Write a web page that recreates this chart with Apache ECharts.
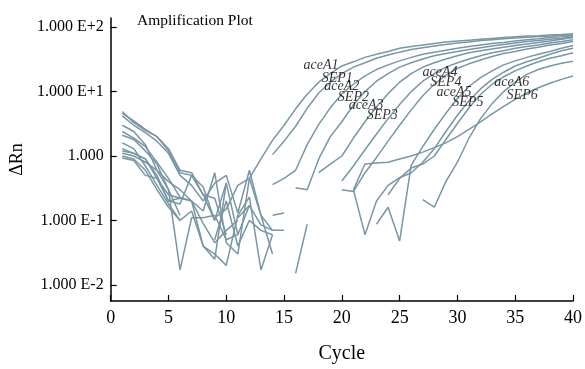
<!DOCTYPE html>
<html>
<head>
<meta charset="utf-8">
<script src="https://cdn.jsdelivr.net/npm/echarts@6/dist/echarts.min.js"></script>
<style>
  html, body { margin: 0; padding: 0; background: #fff; }
  #main { width: 585px; height: 369px; }
</style>
</head>
<body>
<div id="main"></div>
<script>
const _ = null;
const cycles = [1, 2, 3, 4, 5, 6, 7, 8, 9, 10, 11, 12, 13, 14, 15, 16, 17, 18, 19, 20,
  21, 22, 23, 24, 25, 26, 27, 28, 29, 30, 31, 32, 33, 34, 35, 36, 37, 38, 39, 40];
const yTicks = [0.01, 0.1, 1, 10, 100];

// delta Rn per cycle (null = no value shown)
const aceA1 = [1.1, 1.0, 0.8, 0.6, 0.4, 0.3, 0.2, 0.14, 0.55, 0.045,
  0.03, 0.45, 0.9, 1.75, 3.0, 5.4, 9.1, 14, 19, 25,
  29, 34, 38, 42, 47, 50, 53, 56, 59, 61,
  63, 65, 67, 69, 71, 73, 74, 76, 77, 79];
const SEP1 = [4.6, 3.5, 2.6, 2.0, 1.2, 0.55, 0.5, 0.25, 0.1, 0.38,
  0.06, _, _, 1.05, 1.7, 2.9, 5.5, 9.5, 14, 19,
  24, 28, 33, 37, 41, 45, 48, 51, 54, 57,
  59, 62, 64, 66, 68, 70, 72, 73, 75, 76];
const aceA2 = [2.1, 1.8, 1.2, 0.75, 0.3, 0.12, _, _, 0.12, 0.05,
  0.06, 0.17, _, 0.36, 0.45, 0.6, 1.5, 3.1, 5.6, 9.2,
  13, 17.5, 22, 26, 30, 34, 38, 41, 44, 47,
  50, 53, 56, 58, 61, 64, 66, 69, 71, 74];
const SEP2 = [1.3, 1.1, 0.9, 0.5, 0.2, 0.22, 0.2, 0.09, 0.045, 0.07,
  0.1, _, _, _, _, 0.32, 0.3, 0.9, 2.0, 3.4,
  6.2, 10, 14.5, 19, 24, 28, 32, 36, 39, 42,
  45, 48, 51, 54, 57, 60, 62, 65, 67, 71];
const aceA3 = [4.9, 3.3, 2.5, 2.0, 1.3, 0.6, 0.55, 0.25, 0.22, 0.06,
  _, _, _, 0.12, 0.13, _, _, 0.55, 0.75, 1.0,
  1.9, 3.4, 5.8, 9.3, 14, 19, 24, 28, 32, 36,
  40, 43, 46, 49, 52, 55, 58, 61, 65, 69];
const SEP3 = [1.6, 1.3, 0.7, 0.35, 0.18, 0.1, _, _, 0.11, 0.15,
  0.35, 0.45, 0.12, 0.07, 0.07, _, _, _, _, 0.41,
  0.7, 1.25, 2.2, 3.8, 6.3, 10, 14.5, 19, 24, 28,
  32, 36, 40, 43, 47, 50, 53, 57, 60, 64];
const aceA4 = [4.2, 3.0, 2.3, 1.7, 1.1, 0.5, 0.35, 0.2, 0.38, 0.5,
  0.13, 0.6, 0.12, 0.03, _, 0.015, 0.087, _, _, 0.3,
  0.28, 0.55, 0.95, 1.7, 3.0, 5.2, 8.6, 13, 18, 23,
  27, 31, 35, 39, 42, 46, 49, 53, 56, 60];
const SEP4 = [3.0, 2.4, 1.5, 0.6, 0.3, 0.017, 0.11, 0.11, 0.12, _,
  _, _, _, _, _, _, _, _, _, _,
  _, _, 0.087, 0.16, 0.048, 0.72, 1.4, 2.6, 4.6, 7.8,
  12, 16.5, 21, 26, 30, 34, 38, 42, 47, 52];
const aceA5 = [1.0, 0.9, 0.6, 0.3, 0.16, 0.1, 0.14, 0.04, 0.03, 0.02,
  0.12, 0.23, 0.017, 0.06, _, _, _, _, _, _,
  0.3, 0.06, 0.2, 0.35, 0.46, 0.55, 0.8, 1.3, 2.4, 4.3,
  7.2, 11, 15.5, 20, 25, 29, 33, 38, 43, 47];
const SEP5 = [2.4, 1.9, 1.4, 0.8, 0.45, 0.23, 0.2, 0.04, 0.025, 0.38,
  _, _, _, _, _, _, _, _, _, _,
  _, _, _, 0.25, 0.45, 0.65, 0.75, 1.0, 1.8, 3.2,
  5.6, 9, 13, 17, 21, 25, 29, 33, 36, 40];
const aceA6 = [1.2, 1.1, 0.9, 0.45, 0.25, 0.22, _, _, 0.05, 0.2,
  0.04, 0.1, 0.07, 0.06, _, _, _, _, _, _,
  _, _, _, _, _, _, 0.21, 0.16, 0.4, 0.8,
  1.9, 3.8, 6.5, 10, 14, 18.5, 22, 25, 27.5, 29.5];
const SEP6 = [0.93, 0.85, 0.5, 0.45, 0.2, 0.18, 0.5, 0.33, 0.1, _,
  0.11, 0.17, 0.085, 0.07, _, _, _, _, _, _,
  0.3, 0.75, 0.78, 0.8, 0.9, 1.0, 1.15, 1.35, 1.6, 2.0,
  2.6, 3.4, 4.5, 5.9, 7.6, 9.5, 11.5, 13.5, 15.5, 17.5];

const curveNames = ['aceA1', 'SEP1', 'aceA2', 'SEP2', 'aceA3', 'SEP3',
  'aceA4', 'SEP4', 'aceA5', 'SEP5', 'aceA6', 'SEP6'];
const curves = [aceA1, SEP1, aceA2, SEP2, aceA3, SEP3, aceA4, SEP4, aceA5, SEP5, aceA6, SEP6];

// where each curve's name sits, [cycle, delta Rn]
const labelSpots = [[18.2, 25.2], [19.6, 16.0], [20.0, 12.0], [21.0, 8.2], [22.1, 6.2], [23.5, 4.3],
  [28.5, 19.7], [29.0, 13.9], [29.7, 9.7], [30.9, 6.8], [34.7, 13.9], [35.6, 8.8]];

const lineColor = '#7996a4';
const serif = '"Liberation Serif", "DejaVu Serif", serif';

const chart = echarts.init(document.getElementById('main'));

const lineSeries = curves.map((vals, k) => ({
  name: curveNames[k],
  type: 'line',
  symbol: 'none',
  connectNulls: false,
  lineStyle: { color: lineColor, width: 1.5 },
  data: cycles.map((c, i) => [c, vals[i] === null ? '-' : vals[i]]),
  silent: true,
  z: 2
}));

const labelSeries = {
  type: 'scatter',
  symbolSize: 0,
  silent: true,
  data: labelSpots.map((p, k) => ({ value: p, name: curveNames[k] })),
  label: {
    show: true,
    position: 'inside',
    formatter: (p) => p.name,
    fontFamily: serif,
    fontStyle: 'italic',
    fontSize: 14,
    color: '#000'
  },
  z: 5
};

function expLabel(v) {
  const e = Math.round(Math.log10(v));
  if (e === 0) return '1.000';
  return '1.000 E' + (e > 0 ? '+' : '-') + Math.abs(e);
}

chart.setOption({
  animation: false,
  title: {
    text: 'Amplification Plot',
    left: 132,
    top: 8,
    textStyle: { fontFamily: serif, fontWeight: 'normal', fontSize: 15.5, color: '#000' }
  },
  grid: { left: 106, right: 11, top: 18, bottom: 64 },
  xAxis: {
    type: 'value',
    min: 0,
    max: 40,
    interval: 5,
    name: 'Cycle',
    nameLocation: 'middle',
    nameGap: 43,
    nameTextStyle: { fontFamily: serif, fontSize: 20, color: '#000' },
    axisLine: { lineStyle: { color: '#000', width: 1.5 } },
    axisTick: { inside: true, length: 6, lineStyle: { color: '#000', width: 1.2 } },
    axisLabel: { fontFamily: serif, fontSize: 18, color: '#000', margin: 8 },
    splitLine: { show: false }
  },
  yAxis: {
    type: 'log',
    logBase: 10,
    min: 0.0056,
    max: 139,
    name: '\u0394Rn',
    nameLocation: 'middle',
    nameGap: 82,
    nameTextStyle: { fontFamily: serif, fontSize: 18, color: '#000' },
    axisLine: { show: true, lineStyle: { color: '#000', width: 1.5 } },
    axisTick: { show: true, inside: true, length: 6, customValues: yTicks, lineStyle: { color: '#000', width: 1.2 } },
    axisLabel: { fontFamily: serif, fontSize: 16, color: '#000', margin: 7, customValues: yTicks, formatter: expLabel },
    splitLine: { show: false },
    minorSplitLine: { show: false }
  },
  series: lineSeries.concat([labelSeries])
});
</script>
</body>
</html>
